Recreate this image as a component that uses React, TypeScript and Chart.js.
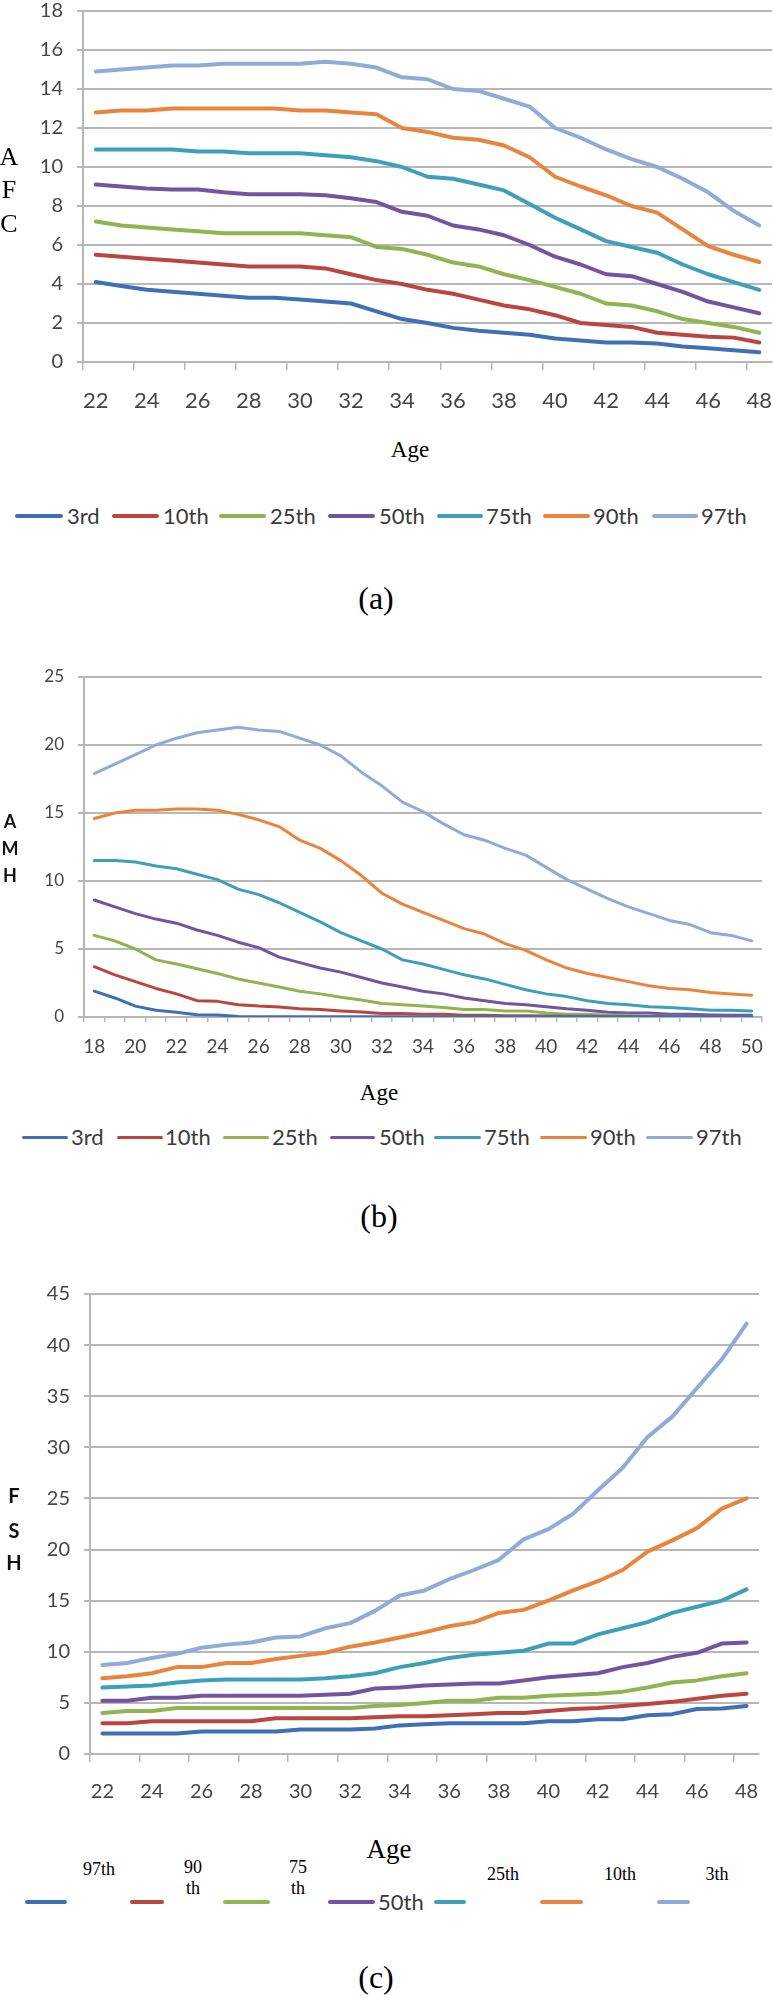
import React, { useEffect, useRef } from 'react';
import { Chart, registerables } from 'chart.js';

Chart.register(...registerables);

// ---------- data ----------
const afcAges = ['22','23','24','25','26','27','28','29','30','31','32','33','34','35','36','37','38','39','40','41','42','43','44','45','46','47','48'];
const afc3 = [4.1,3.9,3.7,3.6,3.5,3.4,3.3,3.3,3.2,3.1,3.0,2.6,2.2,2.0,1.75,1.6,1.5,1.4,1.2,1.1,1.0,1.0,0.95,0.8,0.7,0.6,0.5];
const afc10 = [5.5,5.4,5.3,5.2,5.1,5.0,4.9,4.9,4.9,4.8,4.5,4.2,4.0,3.7,3.5,3.2,2.9,2.7,2.4,2.0,1.9,1.8,1.5,1.4,1.3,1.25,1.0];
const afc25 = [7.2,7.0,6.9,6.8,6.7,6.6,6.6,6.6,6.6,6.5,6.4,5.9,5.8,5.5,5.1,4.9,4.5,4.2,3.85,3.5,3.0,2.9,2.6,2.2,2.0,1.8,1.5];
const afc50 = [9.1,9.0,8.9,8.85,8.85,8.7,8.6,8.6,8.6,8.55,8.4,8.2,7.7,7.5,7.0,6.8,6.5,6.0,5.4,5.0,4.5,4.4,4.0,3.6,3.1,2.8,2.5];
const afc75 = [10.9,10.9,10.9,10.9,10.8,10.8,10.7,10.7,10.7,10.6,10.5,10.3,10.0,9.5,9.4,9.1,8.8,8.1,7.4,6.8,6.2,5.9,5.6,5.0,4.5,4.1,3.7];
const afc90 = [12.8,12.9,12.9,13.0,13.0,13.0,13.0,13.0,12.9,12.9,12.8,12.7,12.0,11.8,11.5,11.4,11.1,10.5,9.5,9.0,8.55,8.0,7.66,6.8,5.94,5.5,5.13];
const afc97 = [14.9,15.0,15.1,15.2,15.2,15.3,15.3,15.3,15.3,15.4,15.3,15.1,14.6,14.5,14.0,13.9,13.5,13.1,12.0,11.5,10.9,10.4,10.0,9.4,8.7,7.75,7.0];
const afcTicks = [0, 18, 2]; // min, max, step

const amhAges = ['18','19','20','21','22','23','24','25','26','27','28','29','30','31','32','33','34','35','36','37','38','39','40','41','42','43','44','45','46','47','48','49','50'];
const amh3 = [1.9,1.4,0.8,0.5,0.35,0.17,0.15,0.03,0.02,0.02,0.02,0.02,0.02,0.02,0.02,0.02,0.02,0.02,0.02,0.02,0.02,0.02,0.02,0.02,0.02,0.02,0.02,0.02,0.02,0.02,0.02,0.02,0.02];
const amh10 = [3.7,3.1,2.6,2.1,1.7,1.2,1.15,0.9,0.8,0.74,0.6,0.55,0.45,0.37,0.25,0.25,0.2,0.2,0.12,0.12,0.1,0.1,0.08,0.06,0.05,0.04,0.03,0.03,0.02,0.02,0.02,0.02,0.02];
const amh25 = [6.0,5.6,5.0,4.2,3.9,3.55,3.2,2.8,2.5,2.2,1.9,1.7,1.45,1.25,1.0,0.9,0.8,0.7,0.55,0.55,0.45,0.45,0.3,0.2,0.2,0.12,0.12,0.05,0.05,0.04,0.03,0.03,0.03];
const amh50 = [8.6,8.1,7.6,7.2,6.9,6.4,6.0,5.5,5.1,4.4,4.0,3.6,3.3,2.9,2.5,2.2,1.9,1.7,1.4,1.2,1.0,0.9,0.75,0.6,0.5,0.35,0.3,0.3,0.2,0.2,0.15,0.12,0.12];
const amh75 = [11.5,11.5,11.4,11.1,10.9,10.5,10.1,9.4,9.0,8.4,7.7,7.0,6.2,5.6,5.0,4.2,3.9,3.5,3.1,2.8,2.4,2.0,1.7,1.5,1.2,1.0,0.9,0.75,0.7,0.6,0.5,0.5,0.45];
const amh90 = [14.6,15.0,15.2,15.2,15.3,15.3,15.2,14.9,14.5,14.0,13.0,12.4,11.5,10.4,9.1,8.3,7.7,7.1,6.5,6.1,5.4,4.9,4.2,3.6,3.2,2.9,2.6,2.3,2.1,2.0,1.8,1.7,1.6];
const amh97 = [17.9,18.6,19.3,20.0,20.5,20.9,21.1,21.3,21.1,21.0,20.5,20.0,19.2,18.0,17.0,15.8,15.1,14.2,13.4,13.0,12.4,11.9,11.0,10.1,9.4,8.7,8.1,7.6,7.1,6.8,6.2,6.0,5.6];
const amhTicks = [0, 25, 5];

const fshAges = ['22','23','24','25','26','27','28','29','30','31','32','33','34','35','36','37','38','39','40','41','42','43','44','45','46','47','48'];
const fshA = [2.0,2.0,2.0,2.0,2.2,2.2,2.2,2.2,2.4,2.4,2.4,2.5,2.8,2.9,3.0,3.0,3.0,3.0,3.2,3.2,3.4,3.4,3.8,3.9,4.4,4.45,4.7];
const fshB = [3.0,3.0,3.2,3.2,3.2,3.2,3.2,3.5,3.5,3.5,3.5,3.6,3.7,3.7,3.8,3.9,4.0,4.0,4.2,4.4,4.5,4.7,4.9,5.1,5.4,5.7,5.9];
const fshC = [4.0,4.2,4.2,4.5,4.5,4.5,4.5,4.5,4.5,4.5,4.5,4.7,4.8,5.0,5.2,5.2,5.5,5.5,5.7,5.8,5.9,6.1,6.5,7.0,7.2,7.6,7.9];
const fshD = [5.2,5.2,5.5,5.5,5.7,5.7,5.7,5.7,5.7,5.8,5.9,6.4,6.5,6.7,6.8,6.9,6.9,7.2,7.5,7.7,7.9,8.5,8.9,9.5,9.9,10.8,10.9];
const fshE = [6.5,6.6,6.7,7.0,7.2,7.3,7.3,7.3,7.3,7.4,7.6,7.9,8.5,8.9,9.4,9.7,9.9,10.1,10.8,10.8,11.7,12.3,12.9,13.8,14.4,15.0,16.1];
const fshF = [7.4,7.6,7.9,8.5,8.5,8.9,8.9,9.3,9.6,9.9,10.5,10.9,11.4,11.9,12.5,12.9,13.8,14.1,15.0,16.0,16.9,18.0,19.8,20.9,22.1,24.0,25.0];
const fshG = [8.7,8.9,9.4,9.8,10.4,10.7,10.9,11.4,11.5,12.3,12.8,14.0,15.5,16.0,17.1,18.0,19.0,21.0,22.0,23.5,25.8,28.0,31.0,33.0,35.8,38.6,42.1];
const fshTicks = [0, 45, 5];

const seriesNames = ['3rd','10th','25th','50th','75th','90th','97th'];
const fshNames = ['97th','90th','75th','50th','25th','10th','3th'];
const colors = ['#4070b4','#bb4540','#8fb550','#7454a0','#3e9fb9','#e8843c','#90abd8'];

// ---------- styling ----------
const GRID = '#b7b7b7';
const TICK_TEXT = '#454545';
const LEG_TEXT = '#3a3a3a';
const SANS = "Lato, 'Open Sans', 'DejaVu Sans', sans-serif";
const SERIF = "'Liberation Serif', 'DejaVu Serif', serif";

function buildConfig(p: any) {
  const datasets = p.values.map((vals: number[], i: number) => ({
    label: p.names[i],
    data: vals,
    borderColor: colors[i],
    backgroundColor: colors[i],
    borderWidth: p.lineWidth,
    pointRadius: 0,
    pointHoverRadius: 0,
    tension: 0,
    fill: false,
    borderCapStyle: 'round',
    borderJoinStyle: 'round',
  }));
  return {
    type: 'line',
    data: { labels: p.labels, datasets },
    options: {
      responsive: false,
      animation: false,
      devicePixelRatio: 1,
      events: [],
      layout: { padding: { left: 0, right: 20, top: p.padTop, bottom: 0 } },
      plugins: {
        tooltip: { enabled: false },
        title: { display: false },
        legend: { display: false },
      },
      scales: {
        x: {
          type: 'category',
          offset: true,
          grid: {
            offset: true,
            drawOnChartArea: false,
            drawTicks: true,
            tickLength: p.xTickLength,
            lineWidth: 1.5,
            color: (ctx: any) => (p.xTickEvery === 1 || ctx.index % 2 === 0 ? GRID : 'rgba(0,0,0,0)'),
          },
          border: { display: true, color: GRID, width: 2 },
          ticks: {
            autoSkip: false,
            maxRotation: 0,
            minRotation: 0,
            padding: p.xTickPad,
            color: TICK_TEXT,
            font: { family: SANS, size: p.xFont },
            callback: function (this: any, val: any, index: number) {
              return index % 2 === 0 ? this.getLabelForValue(val) : '';
            },
          },
          afterFit: (scale: any) => {
            scale.height = p.xHeight;
          },
        },
        y: {
          min: p.ticks[0],
          max: p.ticks[1],
          ticks: {
            stepSize: p.ticks[2],
            padding: 14,
            color: TICK_TEXT,
            font: { family: SANS, size: p.yFont, lineHeight: 1 },
          },
          grid: { color: GRID, lineWidth: 2, drawTicks: true, tickLength: 6 },
          border: { display: true, color: GRID, width: 2 },
          afterFit: (scale: any) => {
            scale.width = p.yWidth;
          },
        },
      },
    },
  };
}

function LineChart({ params, top, width, height }: any) {
  const ref = useRef<HTMLCanvasElement | null>(null);
  useEffect(() => {
    const chart = new Chart(ref.current as HTMLCanvasElement, buildConfig(params) as any);
    return () => chart.destroy();
  }, []);
  return (
    <canvas
      ref={ref}
      width={width}
      height={height}
      style={{ position: 'absolute', left: 0, top, width, height }}
    />
  );
}

const T = ({ x, y, children, style }: any) => (
  <div
    style={{
      position: 'absolute',
      left: x,
      top: y,
      transform: 'translate(-50%, -50%)',
      whiteSpace: 'nowrap',
      lineHeight: 1,
      ...style,
    }}
  >
    {children}
  </div>
);

const L = ({ x, y, children, style }: any) => (
  <div
    style={{
      position: 'absolute',
      left: x,
      top: y,
      transform: 'translateY(-50%)',
      whiteSpace: 'nowrap',
      lineHeight: 1,
      ...style,
    }}
  >
    {children}
  </div>
);

const Swatch = ({ x1, x2, y, color, h }: any) => (
  <div
    style={{
      position: 'absolute',
      left: x1,
      top: y - h / 2,
      width: x2 - x1,
      height: h,
      borderRadius: h / 2,
      background: color,
    }}
  />
);

// plot geometry (page px): A 83..772 x 11..362, B 84..762 x 677..1017, C 90..759 x 1294..1754
const paramsA = {
  labels: afcAges,
  values: [afc3, afc10, afc25, afc50, afc75, afc90, afc97],
  names: seriesNames,
  ticks: afcTicks,
  lineWidth: 4,
  padTop: 24,
  yWidth: 83,
  yFont: 20,
  xFont: 22,
  xTickLength: 8,
  xTickEvery: 2,
  xTickPad: 18,
  xHeight: 71,
};

const paramsB = {
  labels: amhAges,
  values: [amh3, amh10, amh25, amh50, amh75, amh90, amh97],
  names: seriesNames,
  ticks: amhTicks,
  lineWidth: 3,
  padTop: 37,
  yWidth: 84,
  yFont: 17,
  xFont: 19,
  xTickLength: 5,
  xTickEvery: 1,
  xTickPad: 13,
  xHeight: 50,
};

const paramsC = {
  labels: fshAges,
  values: [fshA, fshB, fshC, fshD, fshE, fshF, fshG],
  names: fshNames,
  ticks: fshTicks,
  lineWidth: 4,
  padTop: 24,
  yWidth: 90,
  yFont: 20,
  xFont: 20,
  xTickLength: 8,
  xTickEvery: 2,
  xTickPad: 18,
  xHeight: 50,
};

const legendA = [
  { x1: 15, x2: 63, tx: 67 },
  { x1: 112, x2: 159, tx: 163 },
  { x1: 219, x2: 266, tx: 270 },
  { x1: 328, x2: 375, tx: 379 },
  { x1: 437, x2: 483, tx: 486 },
  { x1: 543, x2: 590, tx: 593 },
  { x1: 652, x2: 698, tx: 701 },
];
const legendB = [
  { x1: 22, x2: 68, tx: 71 },
  { x1: 117, x2: 163, tx: 165 },
  { x1: 223, x2: 269, tx: 272 },
  { x1: 330, x2: 375, tx: 379 },
  { x1: 434, x2: 481, tx: 484 },
  { x1: 540, x2: 587, tx: 590 },
  { x1: 646, x2: 693, tx: 696 },
];

export default function App() {
  const serifTitle = { fontFamily: SERIF, fontSize: 26, color: '#000' };
  const boldSans = { fontFamily: SANS, fontWeight: 700, color: '#111' };
  const figLabel = { fontFamily: SERIF, fontSize: 32, color: '#000' };
  const legSerif = { fontFamily: SERIF, fontSize: 18, color: '#000' };
  const legSans = { fontFamily: SANS, fontSize: 22, color: LEG_TEXT };
  return (
    <div style={{ position: 'absolute', left: 0, top: 0, width: 773, height: 1998, background: '#fff', overflow: 'hidden' }}>
      <LineChart params={paramsA} top={-13} width={792} height={446} />
      <LineChart params={paramsB} top={640} width={782} height={427} />
      <LineChart params={paramsC} top={1270} width={779} height={534} />

      {/* y-axis titles */}
      <T x={9} y={157} style={serifTitle}>A</T>
      <T x={9} y={190} style={serifTitle}>F</T>
      <T x={9} y={224} style={serifTitle}>C</T>

      <T x={10} y={821} style={{ ...boldSans, fontSize: 18 }}>A</T>
      <T x={10} y={848} style={{ ...boldSans, fontSize: 18 }}>M</T>
      <T x={10} y={875} style={{ ...boldSans, fontSize: 18 }}>H</T>

      <T x={14} y={1495} style={{ ...boldSans, fontSize: 20 }}>F</T>
      <T x={14} y={1530} style={{ ...boldSans, fontSize: 20 }}>S</T>
      <T x={14} y={1562} style={{ ...boldSans, fontSize: 20 }}>H</T>

      {/* x-axis titles */}
      <T x={410} y={449} style={{ fontFamily: SERIF, fontSize: 23, color: '#000' }}>Age</T>
      <T x={379} y={1092} style={{ fontFamily: SERIF, fontSize: 23, color: '#000' }}>Age</T>
      <T x={389} y={1849} style={{ fontFamily: SERIF, fontSize: 27, color: '#000' }}>Age</T>

      {/* legend of panel (a) */}
      {legendA.map((it, i) => (
        <React.Fragment key={'a' + i}>
          <Swatch x1={it.x1} x2={it.x2} y={516} h={4} color={colors[i]} />
          <L x={it.tx} y={516} style={legSans}>{seriesNames[i]}</L>
        </React.Fragment>
      ))}

      {/* legend of panel (b) */}
      {legendB.map((it, i) => (
        <React.Fragment key={'b' + i}>
          <Swatch x1={it.x1} x2={it.x2} y={1137} h={3} color={colors[i]} />
          <L x={it.tx} y={1137} style={legSans}>{seriesNames[i]}</L>
        </React.Fragment>
      ))}

      {/* panel labels */}
      <T x={376} y={598} style={figLabel}>(a)</T>
      <T x={379} y={1216} style={figLabel}>(b)</T>
      <T x={376} y={1977} style={figLabel}>(c)</T>

      {/* legend of panel (c) */}
      <Swatch x1={25} x2={67} y={1902} h={4} color={colors[0]} />
      <T x={99} y={1869} style={legSerif}>{fshNames[0]}</T>
      <Swatch x1={130} x2={164} y={1902} h={4} color={colors[1]} />
      <T x={193} y={1867} style={legSerif}>90</T>
      <T x={193} y={1888} style={legSerif}>th</T>
      <Swatch x1={223} x2={270} y={1902} h={4} color={colors[2]} />
      <T x={298} y={1867} style={legSerif}>75</T>
      <T x={298} y={1888} style={legSerif}>th</T>
      <Swatch x1={328} x2={375} y={1902} h={4} color={colors[3]} />
      <L x={378} y={1902} style={legSans}>{fshNames[3]}</L>
      <Swatch x1={434} x2={466} y={1902} h={4} color={colors[4]} />
      <T x={503} y={1874} style={legSerif}>{fshNames[4]}</T>
      <Swatch x1={540} x2={583} y={1902} h={4} color={colors[5]} />
      <T x={620} y={1874} style={legSerif}>{fshNames[5]}</T>
      <Swatch x1={657} x2={690} y={1902} h={4} color={colors[6]} />
      <T x={717} y={1874} style={legSerif}>{fshNames[6]}</T>
    </div>
  );
}
